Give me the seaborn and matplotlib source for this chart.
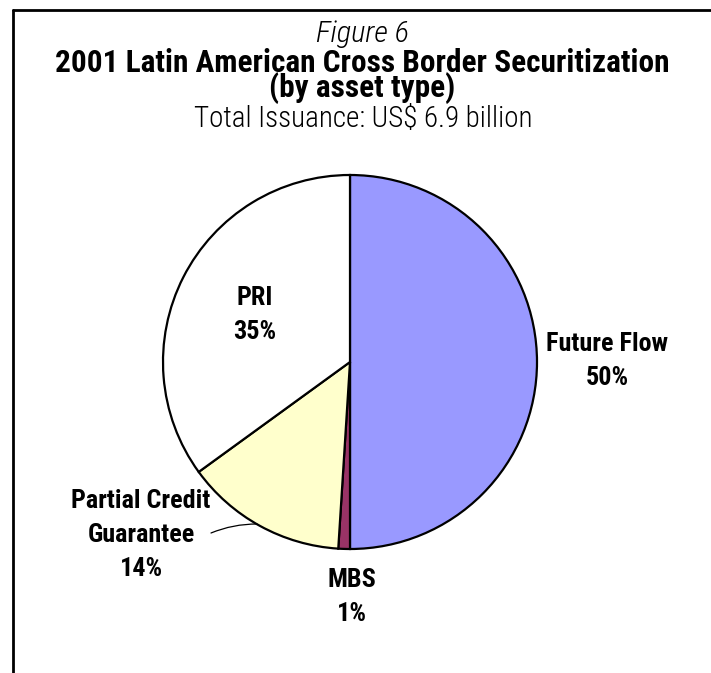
import matplotlib
matplotlib.use("Agg")
import matplotlib.pyplot as plt
from matplotlib.lines import Line2D
import seaborn as sns

# Share of 2001 Latin American cross-border securitization by asset type (%)
categories = ["Future Flow", "MBS", "Partial Credit Guarantee", "PRI"]
shares = [50, 1, 14, 35]
colors = ["#9999FF", "#993366", "#FFFFCC", "#FFFFFF"]
label_lines = [["Future Flow"], ["MBS"], ["Partial Credit", "Guarantee"], ["PRI"]]

title_top = "Figure 6"
title_main = ["2001 Latin American Cross Border Securitization", "(by asset type)"]
subtitle = "Total Issuance: US$ 6.9 billion"

sns.set_theme(style="white")
plt.rcParams["font.family"] = ["Roboto Condensed", "DejaVu Sans"]
plt.rcParams["text.color"] = "black"

W, H = 711, 673
fig = plt.figure(figsize=(W / 100, H / 100), dpi=100, facecolor="white")
ax = fig.add_axes([0, 0, 1, 1])
renderer = fig.canvas.get_renderer()

# pie drawn in a pixel-sized data space (y measured upward)
cx, cy, r = 350, H - 362, 187
wedges, _ = ax.pie(
    shares, colors=colors, startangle=90, counterclock=False,
    center=(cx, cy), radius=r, frame=True,
    wedgeprops=dict(edgecolor="black", linewidth=1.6),
)
ax.set_xlim(0, W)
ax.set_ylim(0, H)
ax.set_aspect("equal")
ax.axis("off")


def fit_width(txt, width):
    """Scale a text's font size so its rendered width equals `width` px."""
    for _ in range(3):
        bb = txt.get_window_extent(renderer)
        txt.set_fontsize(txt.get_fontsize() * width / bb.width)
    return txt.get_fontsize()


def fit_line_gap(txt, gap, spacing=1.2):
    """Tune a two-line text's line spacing so its baselines are `gap` px apart."""
    one = ax.text(0, 0, "Ag", fontsize=txt.get_fontsize(), fontweight=txt.get_fontweight())
    h1 = one.get_window_extent(renderer).height
    one.remove()
    txt.set_linespacing(spacing)
    for _ in range(3):
        h2 = txt.get_window_extent(renderer).height
        spacing *= gap / (h2 - h1)
        txt.set_linespacing(spacing)


def put(x, y_base, s, **kw):
    return ax.text(x, H - y_base, s, ha="center", va="baseline", color="black",
                   multialignment="center", **kw)


# titles, each sized to its line width
fit_width(put(363, 42, title_top, fontsize=17, fontstyle="italic", fontweight="light"), 93)
main = put(362, 97, "\n".join(title_main), fontsize=20, fontweight="bold")
fit_width(main, 614)
fit_line_gap(main, 25.5)
fit_width(put(363, 127, subtitle, fontsize=17, fontweight="light"), 340)

# slice labels share one size, set from the widest single label line
probe = put(607, 351, "Future Flow", fontsize=17, fontweight="bold")
label_size = fit_width(probe, 122)
probe.remove()

label_pos = {
    "Future Flow": (607, 351),
    "MBS": (352, 587),
    "Partial Credit Guarantee": (141, 508),
    "PRI": (255, 305),
}
line_gap = 34
for cat, val, lines in zip(categories, shares, label_lines):
    x, y = label_pos[cat]
    for i, s in enumerate(lines + [f"{val}%"]):
        put(x, y + i * line_gap, s, fontsize=label_size, fontweight="bold")

# leader line for the Partial Credit Guarantee label
ax.annotate("", xy=(257, H - 524), xytext=(211, H - 533),
            arrowprops=dict(arrowstyle="-", color="black", lw=0.9,
                            connectionstyle="arc3,rad=-0.1", shrinkA=0, shrinkB=0))

# open frame: top and left rules
fig.add_artist(Line2D([12.5 / W, 1], [1 - 10 / H, 1 - 10 / H], color="black", lw=2))
fig.add_artist(Line2D([12.5 / W, 12.5 / W], [1 - 10 / H, 0], color="black", lw=2))

fig.savefig("out.png", dpi=100, facecolor="white")
